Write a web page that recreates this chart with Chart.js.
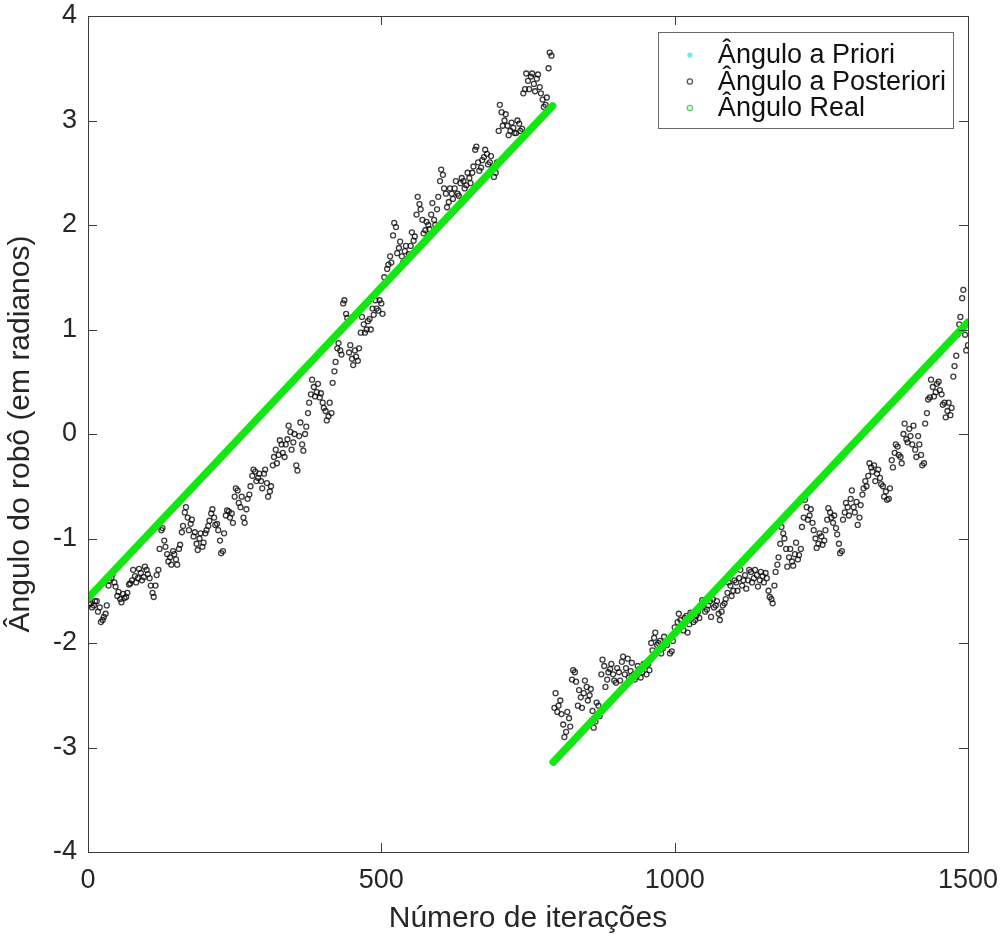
<!DOCTYPE html>
<html><head><meta charset="utf-8">
<script src="https://cdn.jsdelivr.net/npm/chart.js@4.4.1/dist/chart.umd.min.js"></script>
<style>html,body{margin:0;padding:0;background:#fff;}#wrap{position:relative;width:1008px;height:940px;}</style>
</head><body><div id="wrap"><canvas id="c" width="1008" height="940"></canvas></div>
<script>
const seriesLabels = ['Ângulo a Priori', 'Ângulo a Posteriori', 'Ângulo Real'];
const xTickValues = [0, 500, 1000, 1500];
const yTickValues = [-4, -3, -2, -1, 0, 1, 2, 3, 4];
const xAxisTitle = 'Número de iterações';
const yAxisTitle = 'Ângulo do robô (em radianos)';

const iterStep = 5;
// first lap, iterations 0,5,10,...
const posteriori1Start = 0;
const posteriori1 = [
  -1.58,-1.62,-1.64,-1.6,-1.66,-1.78,-1.72,-1.45,-1.38,-1.42,
  -1.55,-1.58,-1.53,-1.56,-1.44,-1.4,-1.36,-1.38,-1.33,-1.37,
  -1.3,-1.38,-1.52,-1.45,-1.3,-0.92,-1.02,-1.15,-1.18,-1.12,
  -1.2,-1.1,-0.94,-0.75,-0.8,-0.86,-0.98,-1.05,-1.0,-1.08,
  -0.95,-0.88,-0.76,-0.8,-0.86,-1.02,-1.12,-0.78,-0.74,-0.76,
  -0.6,-0.54,-0.7,-0.8,-0.72,-0.58,-0.4,-0.36,-0.42,-0.45,
  -0.38,-0.47,-0.55,-0.3,-0.15,-0.2,-0.1,-0.22,-0.05,0.02,
  -0.08,-0.3,-0.02,-0.1,0.0,0.2,0.38,0.45,0.4,0.35,
  0.3,0.22,0.17,0.2,0.6,0.82,0.8,1.25,1.15,0.78,
  0.72,0.8,0.7,0.97,1.05,1.0,1.1,1.2,1.28,1.18,
  1.25,1.5,1.58,1.7,1.9,1.98,1.78,1.7,1.75,1.68,
  1.8,1.85,2.1,2.2,2.05,1.95,2.0,2.1,2.05,2.15,
  2.42,2.48,2.3,2.22,2.3,2.35,2.3,2.4,2.42,2.38,
  2.45,2.5,2.72,2.6,2.55,2.65,2.68,2.6,2.55,2.5,
  2.9,3.08,3.0,2.95,2.9,2.93,2.88,2.97,2.92,3.3,
  3.38,3.42,3.35,3.4,3.32,3.2,3.15,3.5,3.62
];
// first lap, iterations 2,7,12,...
const posteriori1bStart = 2;
const posteriori1b = [
  -1.63,-1.66,-1.6,-1.7,-1.8,-1.75,-1.64,-1.4,-1.34,-1.46,
  -1.51,-1.61,-1.57,-1.52,-1.43,-1.3,-1.42,-1.29,-1.4,-1.27,
  -1.34,-1.45,-1.56,-1.35,-1.1,-0.9,-1.08,-1.22,-1.25,-1.15,
  -1.25,-1.06,-0.88,-0.7,-0.92,-0.82,-0.94,-1.11,-0.95,-1.04,
  -0.92,-0.83,-0.72,-0.87,-0.92,-1.14,-0.95,-0.73,-0.8,-0.85,
  -0.52,-0.66,-0.6,-0.85,-0.62,-0.5,-0.34,-0.45,-0.38,-0.52,
  -0.34,-0.6,-0.5,-0.22,-0.28,-0.06,-0.18,-0.1,0.08,-0.15,
  0.0,-0.35,0.11,-0.16,0.07,0.3,0.52,0.36,0.48,0.39,
  0.25,0.13,0.3,0.49,0.69,0.87,0.76,1.28,1.11,0.85,
  0.66,0.74,0.82,1.12,0.97,1.08,1.0,1.14,1.2,1.28,
  1.15,1.45,1.62,1.64,2.02,1.73,1.84,1.64,1.8,1.72,
  1.93,1.89,2.27,2.15,1.92,2.03,1.96,2.21,2.0,2.27,
  2.53,2.35,2.17,2.35,2.25,2.42,2.28,2.45,2.35,2.5,
  2.4,2.56,2.75,2.52,2.62,2.72,2.58,2.66,2.46,2.6,
  3.15,2.95,3.06,2.86,2.98,2.88,3.0,2.9,3.26,3.45,
  3.3,3.45,3.28,3.44,3.26,3.13,3.22,3.65
];
// second lap, iterations 795,800,...
const posteriori2Start = 795;
const posteriori2 = [
  -2.62,-2.66,-2.55,-2.78,-2.85,-2.72,-2.35,-2.28,-2.6,-2.52,
  -2.48,-2.42,-2.5,-2.65,-2.75,-2.6,-2.3,-2.22,-2.35,-2.25,
  -2.3,-2.38,-2.28,-2.18,-2.3,-2.15,-2.27,-2.3,-2.32,-2.25,
  -2.28,-2.22,-2.2,-2.0,-1.95,-2.02,-1.98,-2.05,-2.0,-1.96,
  -2.08,-1.85,-1.8,-1.78,-1.88,-1.74,-1.82,-1.72,-1.78,-1.7,
  -1.65,-1.62,-1.68,-1.6,-1.58,-1.64,-1.72,-1.7,-1.62,-1.52,
  -1.45,-1.5,-1.42,-1.38,-1.45,-1.35,-1.4,-1.32,-1.38,-1.35,
  -1.4,-1.36,-1.33,-1.5,-1.58,-1.45,-1.25,-1.05,-0.95,-1.1,
  -1.18,-1.22,-1.15,-1.2,-1.1,-0.8,-0.7,-0.78,-0.85,-1.0,
  -1.05,-0.98,-1.02,-0.82,-0.75,-0.85,-0.9,-1.05,-1.12,-0.75,
  -0.7,-0.62,-0.7,-0.65,-0.8,-0.58,-0.45,-0.4,-0.32,-0.3,
  -0.38,-0.42,-0.5,-0.55,-0.62,-0.25,-0.18,-0.12,-0.22,0.0,
  -0.05,0.05,-0.1,-0.15,-0.02,-0.2,-0.28,0.2,0.35,0.45,
  0.4,0.5,0.38,0.3,0.22,0.18,0.55,0.75,1.05,1.3,
  0.95,0.85
];
// second lap, iterations 797,802,...
const posteriori2bStart = 797;
const posteriori2b = [
  -2.48,-2.6,-2.68,-2.9,-2.66,-2.8,-2.26,-2.37,-2.45,-2.62,
  -2.36,-2.55,-2.44,-2.81,-2.57,-2.7,-2.16,-2.42,-2.28,-2.2,
  -2.36,-2.24,-2.36,-2.13,-2.24,-2.33,-2.19,-2.35,-2.22,-2.33,
  -2.2,-2.3,-2.26,-2.07,-1.9,-2.0,-2.1,-1.94,-2.02,-2.1,
  -1.98,-1.9,-1.72,-1.84,-1.76,-1.9,-1.71,-1.8,-1.74,-1.76,
  -1.59,-1.7,-1.64,-1.75,-1.66,-1.6,-1.78,-1.64,-1.58,-1.42,
  -1.55,-1.4,-1.5,-1.3,-1.4,-1.48,-1.3,-1.42,-1.3,-1.46,
  -1.32,-1.42,-1.38,-1.56,-1.62,-1.32,-1.18,-0.89,-1.0,-1.27,
  -1.1,-1.26,-1.04,-1.16,-0.89,-0.63,-0.82,-0.72,-0.92,-1.09,
  -0.95,-1.06,-0.92,-0.71,-0.8,-0.78,-0.96,-1.14,-0.82,-0.66,
  -0.78,-0.54,-0.75,-0.87,-0.68,-0.52,-0.5,-0.28,-0.36,-0.45,
  -0.34,-0.48,-0.6,-0.63,-0.52,-0.32,-0.1,-0.2,-0.28,0.1,
  -0.08,-0.02,0.08,-0.22,-0.1,-0.3,0.1,0.33,0.52,0.36,
  0.48,0.42,0.28,0.16,0.3,0.25,0.65,0.95,1.12,1.38,
  0.8
];
const prioriIter = [];
const prioriAngle = [];
const realIter = [0, 792, 792, 793, 1500];
const realAngle = [-1.571, 3.14, null, -3.14, 1.07];

const FONT = "'Liberation Sans', Arial, Helvetica, sans-serif";
const TEXT = '#262626';
const AXIS = '#3c3c3c';

const toPoints = (start, arr) => arr.map((v, i) => ({ x: start + i * iterStep, y: v }));
const posterioriPoints = []
  .concat(toPoints(posteriori1Start, posteriori1))
  .concat(toPoints(posteriori1bStart, posteriori1b))
  .concat(toPoints(posteriori2Start, posteriori2))
  .concat(toPoints(posteriori2bStart, posteriori2b))
  .sort((p, q) => p.x - q.x);
const prioriPoints = prioriIter.map((x, i) => ({ x: x, y: prioriAngle[i] }));
const realPoints = realIter.map((x, i) => ({ x: x, y: realAngle[i] }));

const legendStyle = [
  { type: 'fill', color: '#6fe3f7' },
  { type: 'ring', color: '#555555' },
  { type: 'ring', color: '#4fd84f' }
];

const framePlugin = {
  id: 'matlabFrame',
  afterDraw(chart) {
    const ctx = chart.ctx;
    const a = chart.chartArea;
    const xs = chart.scales.x, ys = chart.scales.y;
    ctx.save();
    ctx.strokeStyle = AXIS;
    ctx.lineWidth = 1;
    ctx.strokeRect(Math.round(a.left) + 0.5, Math.round(a.top) + 0.5, Math.round(a.right - a.left), Math.round(a.bottom - a.top));
    const tl = 9;
    ctx.beginPath();
    xTickValues.forEach(v => {
      const px = Math.round(xs.getPixelForValue(v)) + 0.5;
      ctx.moveTo(px, a.bottom); ctx.lineTo(px, a.bottom - tl);
      ctx.moveTo(px, a.top); ctx.lineTo(px, a.top + tl);
    });
    yTickValues.forEach(v => {
      const py = Math.round(ys.getPixelForValue(v)) + 0.5;
      ctx.moveTo(a.left, py); ctx.lineTo(a.left + tl, py);
      ctx.moveTo(a.right, py); ctx.lineTo(a.right - tl, py);
    });
    ctx.stroke();

    // legend box
    ctx.font = '27px ' + FONT;
    const labels = chart.data.datasets.map(d => d.label);
    const maxW = Math.max(...labels.map(t => ctx.measureText(t).width));
    const boxRight = Math.round(a.right) - 15;
    const boxTop = Math.round(a.top) + 16;
    const rowH = 26.5;
    const textX = boxRight - 7 - maxW;
    const markX = textX - 28;
    const boxLeft = Math.round(markX - 32);
    const boxH = 96;
    ctx.fillStyle = '#ffffff';
    ctx.fillRect(boxLeft, boxTop, boxRight - boxLeft, boxH);
    ctx.strokeStyle = '#6a6a6a';
    ctx.lineWidth = 1;
    ctx.strokeRect(boxLeft + 0.5, boxTop + 0.5, boxRight - boxLeft, boxH);
    ctx.textBaseline = 'middle';
    ctx.textAlign = 'left';
    labels.forEach((t, i) => {
      const cy = boxTop + 23 + i * rowH;
      const st = legendStyle[i];
      ctx.beginPath();
      ctx.arc(markX, cy, 2.6, 0, Math.PI * 2);
      if (st.type === 'fill') { ctx.fillStyle = st.color; ctx.fill(); }
      else { ctx.strokeStyle = st.color; ctx.lineWidth = 1.3; ctx.stroke(); }
      ctx.fillStyle = '#111';
      ctx.fillText(t, textX, cy + 1);
    });
    ctx.restore();
  }
};

new Chart(document.getElementById('c'), {
  type: 'scatter',
  data: {
    datasets: [
      { label: seriesLabels[0], data: prioriPoints, pointRadius: 2.4, pointBorderWidth: 1.2, borderColor: '#6fe3f7', backgroundColor: 'rgba(0,0,0,0)', order: 2 },
      { label: seriesLabels[1], data: posterioriPoints, pointRadius: 2.5, pointBorderWidth: 1.3, borderColor: 'rgba(10,10,10,0.8)', backgroundColor: 'rgba(255,255,255,0)', order: 1 },
      { label: seriesLabels[2], data: realPoints, showLine: true, spanGaps: false, borderColor: '#14e614', borderWidth: 7.5, borderCapStyle: 'round', pointRadius: 0, order: 0 }
    ]
  },
  options: {
    responsive: false,
    animation: false,
    devicePixelRatio: 1,
    layout: { padding: { top: 16, right: 40, left: 0, bottom: 0 } },
    plugins: { legend: { display: false }, tooltip: { enabled: false } },
    scales: {
      x: {
        type: 'linear', min: 0, max: 1500,
        afterBuildTicks: s => { s.ticks = xTickValues.map(v => ({ value: v })); },
        grid: { display: false, drawTicks: false },
        border: { display: false },
        ticks: { font: { family: FONT, size: 27 }, color: TEXT, padding: 12, maxRotation: 0, callback: v => String(v) },
        title: { display: true, text: xAxisTitle, font: { family: FONT, size: 30 }, color: TEXT, padding: { top: 0, bottom: 3 } },
        afterFit: s => { s.height = 88; s.paddingLeft = 0; s.paddingRight = 0; }
      },
      y: {
        type: 'linear', min: -4, max: 4,
        afterBuildTicks: s => { s.ticks = yTickValues.map(v => ({ value: v })); },
        grid: { display: false, drawTicks: false },
        border: { display: false },
        ticks: { font: { family: FONT, size: 27 }, color: TEXT, padding: 11, callback: v => String(v) },
        title: { display: true, text: yAxisTitle, font: { family: FONT, size: 30 }, color: TEXT, padding: { top: 3, bottom: 0 } },
        afterFit: s => { s.width = 88; s.paddingTop = 0; s.paddingBottom = 0; }
      }
    }
  },
  plugins: [framePlugin]
});
</script></body></html>
